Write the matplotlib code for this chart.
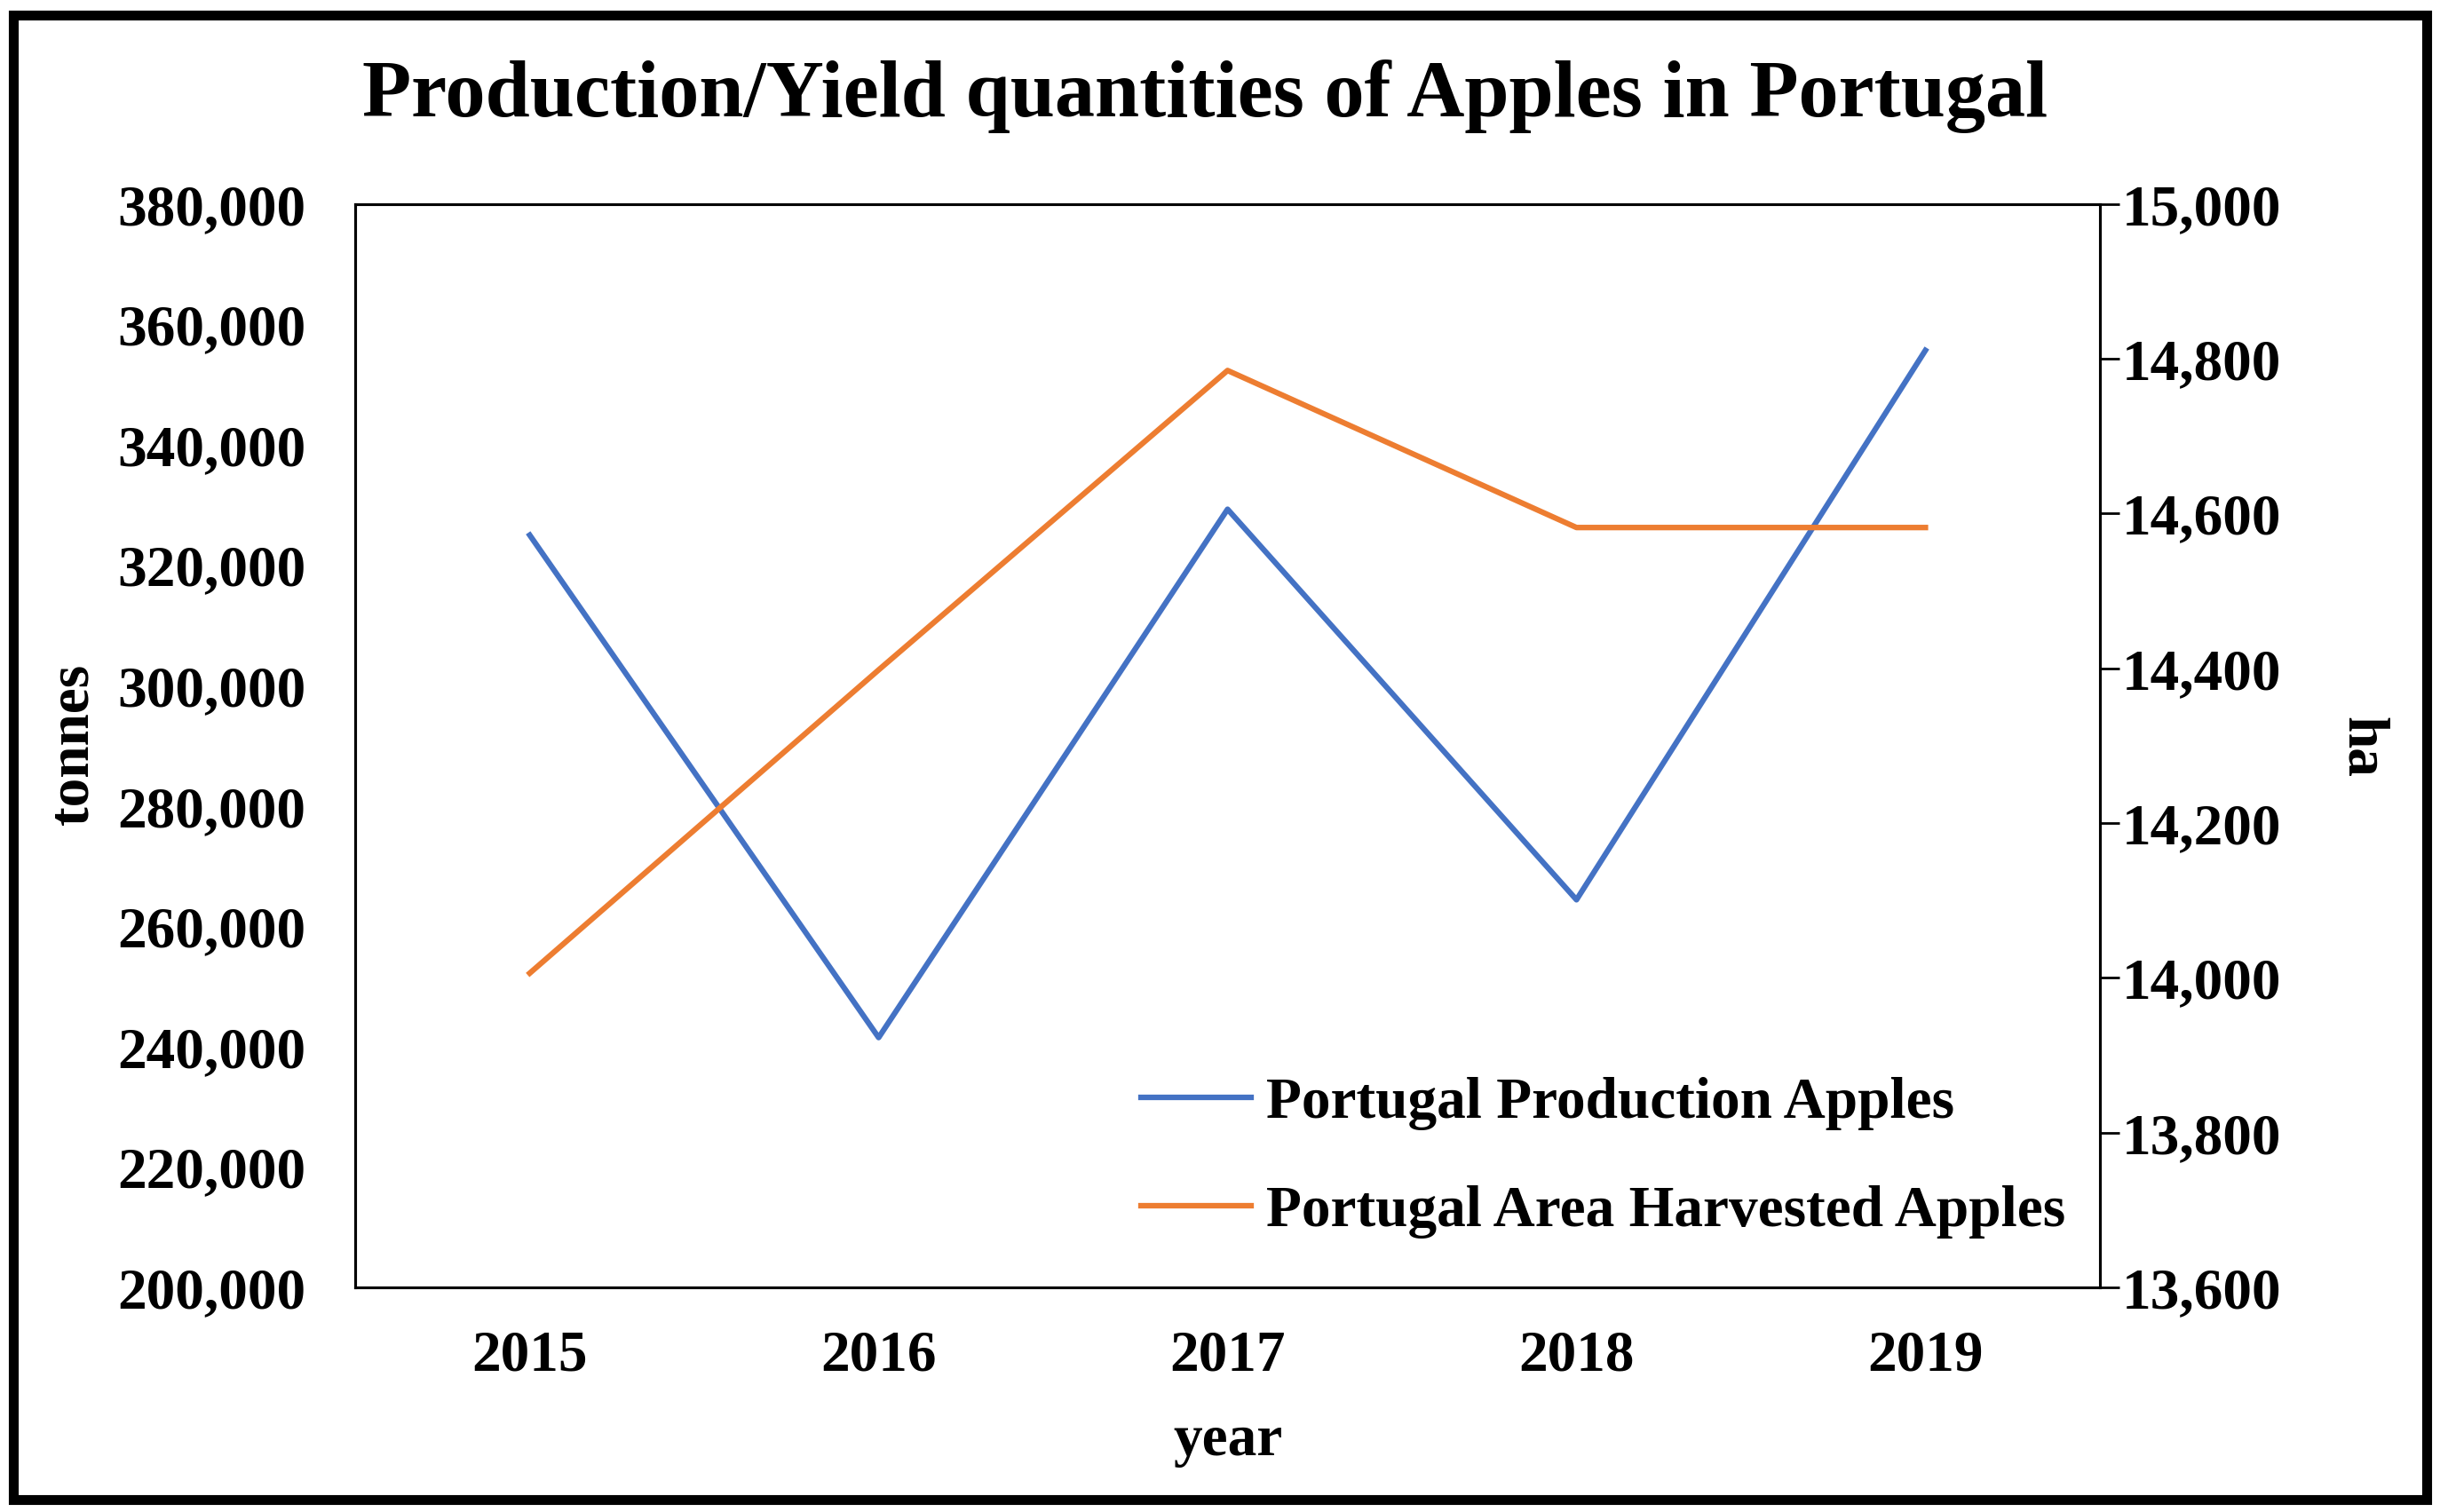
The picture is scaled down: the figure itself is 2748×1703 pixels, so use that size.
import matplotlib.pyplot as plt
from matplotlib.patches import Rectangle
from matplotlib.ticker import FuncFormatter

plt.rcParams['font.family'] = ['Liberation Serif', 'DejaVu Serif']
plt.rcParams['font.weight'] = 'bold'

# data
years = ['2015', '2016', '2017', '2018', '2019']
production = [325000, 241500, 329300, 264400, 355700]   # tonnes
area = [14006, 14398, 14785, 14582, 14582]              # ha

blue = '#4472C4'
orange = '#ED7D31'

fig = plt.figure(figsize=(27.48, 17.03), dpi=100)
ax = fig.add_axes([0.1456, 0.1486, 0.715, 0.7164])
ax2 = ax.twinx()

x = range(len(years))
l1, = ax.plot(x, production, color=blue, lw=4.5, label='Portugal Production Apples')
l2, = ax2.plot(x, area, color=orange, lw=4.5, label='Portugal Area Harvested Apples')

ax.set_xlim(-0.5, 4.5)
ax.set_ylim(200000, 380000)
ax.set_yticks(range(200000, 380001, 20000))
ax2.set_ylim(13600, 15000)
ax2.set_yticks(range(13600, 15001, 200))

fmt = FuncFormatter(lambda v, pos: f'{int(v):,}')
ax.yaxis.set_major_formatter(fmt)
ax2.yaxis.set_major_formatter(fmt)

ax.set_xticks(list(x))
ax.set_xticklabels(years)

fs = 47
ax.tick_params(axis='y', length=0, pad=40, labelsize=fs)
ax.tick_params(axis='x', length=0, pad=34, labelsize=fs)
ax2.tick_params(axis='y', direction='out', length=16, width=2, pad=2, labelsize=fs)

for a in (ax, ax2):
    for s in a.spines.values():
        s.set_linewidth(2.2)
        s.set_color('black')

ax.set_xlabel('year', fontsize=fs, fontweight='bold', labelpad=26)
fig.text(0.030, 0.508, 'tonnes', rotation=90, fontsize=fs, fontweight='bold',
         ha='center', va='center')
fig.text(0.968, 0.506, 'ha', rotation=270, fontsize=fs, fontweight='bold',
         ha='center', va='center')

fig.text(0.4938, 0.936, 'Production/Yield quantities of Apples in Portugal',
         fontsize=65, fontweight='bold', ha='center', va='center')

leg = ax2.legend(handles=[l1, l2], loc='lower left', bbox_to_anchor=(0.4505, 0.045),
                 frameon=False, fontsize=fs, handlelength=1.9, handletextpad=0.25,
                 labelspacing=0.95, borderaxespad=0, borderpad=0)

# outer frame around the whole picture
fig.patches.append(Rectangle((0.0055, 0.0085), 0.989, 0.9815, transform=fig.transFigure,
                             fill=False, edgecolor='black', linewidth=8))

fig.savefig('out.png', dpi=100)
